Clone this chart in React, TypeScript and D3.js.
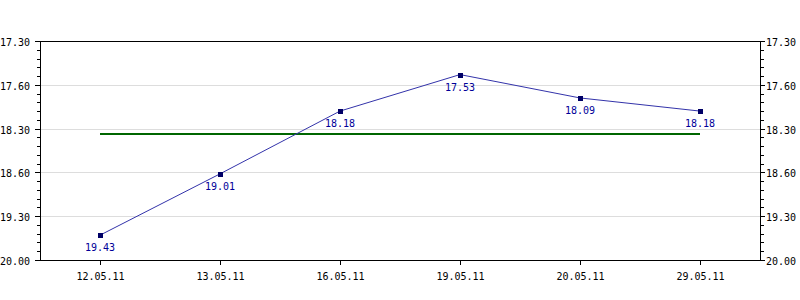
import React from "react";
import * as d3 from "d3";

const categories = ["12.05.11", "13.05.11", "16.05.11", "19.05.11", "20.05.11", "29.05.11"];
// values as mm.ss (minutes.seconds)
const valueLabels = ["19.43", "19.01", "18.18", "17.53", "18.09", "18.18"];
const tickLabels = ["17.30", "17.60", "18.30", "18.60", "19.30", "20.00"];
const tickSeconds = [1050, 1080, 1110, 1140, 1170, 1200];

const toSec = (s: string) => {
  const [m, sec] = s.split(".").map(Number);
  return m * 60 + sec;
};

export default function App() {
  const W = 800, H = 300;
  const left = 40, right = 760, top = 41, bottom = 260;
  const values = valueLabels.map(toSec);
  const avg = d3.mean(values) as number;

  const x = d3.scaleBand<string>().domain(categories).range([left, right]);
  const y = d3.scaleLinear().domain([1050, 1200]).range([top, bottom]);
  const cx = (c: string) => (x(c) as number) + x.bandwidth() / 2;

  const minorTicks: number[] = [];
  for (let v = 1050; v <= 1200; v += 6) minorTicks.push(v);

  const line = d3
    .line<number>()
    .x((_, i) => cx(categories[i]))
    .y((d) => y(d));

  const font = "'DejaVu Sans Mono', monospace";

  return (
    <svg width={W} height={H} style={{ position: "absolute", left: 0, top: 0 }} shapeRendering="crispEdges">
      <rect x={0} y={0} width={W} height={H} fill="#fff" />
      {tickSeconds.map((t, i) =>
        i > 0 && i < tickSeconds.length - 1 ? (
          <line key={"g" + i} x1={left} x2={right} y1={Math.round(y(t)) + 0.5} y2={Math.round(y(t)) + 0.5} stroke="#dddddd" />
        ) : null
      )}
      {/* frame */}
      <line x1={left} x2={right} y1={top + 0.5} y2={top + 0.5} stroke="#000" />
      <line x1={left} x2={right + 1} y1={bottom + 0.5} y2={bottom + 0.5} stroke="#000" />
      <line x1={left + 0.5} x2={left + 0.5} y1={top} y2={bottom + 1} stroke="#000" />
      <line x1={right + 0.5} x2={right + 0.5} y1={top} y2={bottom + 1} stroke="#000" />
      {/* minor ticks */}
      {minorTicks.map((t, i) => {
        const yy = Math.round(y(t)) + 0.5;
        return (
          <g key={"m" + i}>
            <line x1={left - 3} x2={left} y1={yy} y2={yy} stroke="#000" />
            <line x1={right} x2={right + 4} y1={yy} y2={yy} stroke="#000" />
          </g>
        );
      })}
      {tickSeconds.map((t, i) => {
        const yy = Math.round(y(t)) + 0.5;
        return (
          <g key={"t" + i}>
            <line x1={left - 5} x2={left} y1={yy} y2={yy} stroke="#000" />
            <line x1={right} x2={right + 5} y1={yy} y2={yy} stroke="#000" />
            <text x={30} y={yy + 4} textAnchor="end" fontFamily={font} fontSize={10} fill="#000">
              {tickLabels[i]}
            </text>
            <text x={766} y={yy + 4} textAnchor="start" fontFamily={font} fontSize={10} fill="#000">
              {tickLabels[i]}
            </text>
          </g>
        );
      })}
      {categories.map((c) => {
        const xx = Math.round(cx(c)) + 0.5;
        return (
          <g key={c}>
            <line x1={xx} x2={xx} y1={bottom} y2={bottom + 5} stroke="#000" />
            <text x={xx} y={280} textAnchor="middle" fontFamily={font} fontSize={10} fill="#000">
              {c}
            </text>
          </g>
        );
      })}
      {/* average line */}
      <line
        x1={cx(categories[0])}
        x2={cx(categories[categories.length - 1])}
        y1={y(avg)}
        y2={y(avg)}
        stroke="#006600"
        strokeWidth={2}
      />
      <path d={line(values) as string} fill="none" stroke="#3333aa" strokeWidth={1} shapeRendering="auto" />
      {values.map((v, i) => {
        const xx = Math.round(cx(categories[i]));
        const yy = Math.round(y(v));
        return (
          <g key={"p" + i}>
            <rect x={xx - 2} y={yy - 2} width={5} height={5} fill="#000066" stroke="#000" strokeWidth={0} />
            <text x={xx} y={yy + 16} textAnchor="middle" fontFamily={font} fontSize={10} fill="#000099">
              {valueLabels[i]}
            </text>
          </g>
        );
      })}
    </svg>
  );
}
